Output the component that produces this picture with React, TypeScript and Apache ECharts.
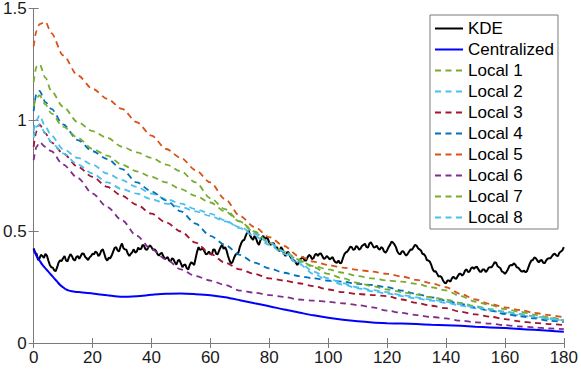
import React, { useEffect, useRef } from "react";
import * as echarts from "echarts";

// ---- data ----
// KDE at x = 0, 1, ..., 180
const KDE_VALUES = [
  0.424, 0.4, 0.38, 0.39, 0.4, 0.37, 0.34, 0.326, 0.34, 0.37, 0.38,
  0.37, 0.385, 0.39, 0.37, 0.39, 0.39, 0.4, 0.38, 0.384, 0.4,
  0.41, 0.39, 0.415, 0.4, 0.37, 0.38, 0.41, 0.43, 0.41, 0.446,
  0.42, 0.4, 0.4, 0.42, 0.41, 0.42, 0.44, 0.42, 0.43, 0.43,
  0.42, 0.4, 0.4, 0.39, 0.38, 0.37, 0.38, 0.36, 0.37, 0.357,
  0.35, 0.335, 0.35, 0.357, 0.38, 0.43, 0.42, 0.41, 0.4, 0.4,
  0.42, 0.4, 0.415, 0.44, 0.43, 0.39, 0.357, 0.38, 0.4, 0.43,
  0.46, 0.48, 0.504, 0.47, 0.48, 0.45, 0.46, 0.48, 0.473, 0.45,
  0.446, 0.43, 0.42, 0.43, 0.4, 0.406, 0.39, 0.37, 0.36, 0.36,
  0.38, 0.37, 0.384, 0.39, 0.38, 0.4, 0.4, 0.39, 0.38, 0.384,
  0.38, 0.37, 0.36, 0.357, 0.38, 0.406, 0.42, 0.43, 0.42, 0.43,
  0.424, 0.44, 0.43, 0.446, 0.44, 0.43, 0.424, 0.43, 0.41, 0.415,
  0.44, 0.45, 0.43, 0.4, 0.41, 0.4, 0.4, 0.42, 0.43, 0.437,
  0.42, 0.4, 0.39, 0.37, 0.35, 0.32, 0.31, 0.3, 0.28, 0.268,
  0.28, 0.29, 0.29, 0.3, 0.31, 0.31, 0.33, 0.32, 0.34, 0.34,
  0.33, 0.32, 0.33, 0.326, 0.34, 0.35, 0.36, 0.34, 0.32, 0.31,
  0.33, 0.35, 0.357, 0.34, 0.33, 0.32, 0.317, 0.34, 0.37, 0.384,
  0.37, 0.37, 0.36, 0.37, 0.38, 0.39, 0.4, 0.39, 0.41, 0.43,
];
// KDE at x = 0.5, 1.5, ..., 179.5
const KDE_MID = [
  0.405, 0.372, 0.395, 0.382, 0.392, 0.35, 0.338, 0.322, 0.362, 0.368,
  0.39, 0.366, 0.398, 0.375, 0.385, 0.378, 0.402, 0.386, 0.372, 0.39,
  0.398, 0.405, 0.398, 0.42, 0.378, 0.382, 0.392, 0.426, 0.415, 0.432,
  0.425, 0.418, 0.39, 0.408, 0.405, 0.428, 0.422, 0.435, 0.418, 0.438,
  0.418, 0.414, 0.392, 0.405, 0.378, 0.385, 0.365, 0.375, 0.352, 0.372,
  0.34, 0.352, 0.33, 0.362, 0.35, 0.41, 0.418, 0.425, 0.398, 0.41,
  0.396, 0.418, 0.398, 0.43, 0.422, 0.415, 0.37, 0.362, 0.395, 0.405,
  0.448, 0.462, 0.495, 0.482, 0.462, 0.47, 0.44, 0.475, 0.462, 0.468,
  0.44, 0.448, 0.43, 0.412, 0.42, 0.39, 0.408, 0.38, 0.37, 0.35,
  0.375, 0.385, 0.37, 0.395, 0.376, 0.395, 0.39, 0.402, 0.378, 0.39,
  0.375, 0.385, 0.362, 0.37, 0.36, 0.398, 0.41, 0.432, 0.418, 0.435,
  0.418, 0.436, 0.445, 0.428, 0.452, 0.428, 0.436, 0.418, 0.425, 0.405,
  0.43, 0.455, 0.442, 0.41, 0.398, 0.412, 0.392, 0.41, 0.418, 0.44,
  0.425, 0.415, 0.398, 0.372, 0.365, 0.33, 0.322, 0.298, 0.295, 0.27,
  0.28, 0.275, 0.298, 0.288, 0.31, 0.302, 0.325, 0.318, 0.335, 0.332,
  0.342, 0.32, 0.33, 0.318, 0.338, 0.34, 0.362, 0.345, 0.335, 0.318,
  0.318, 0.345, 0.348, 0.352, 0.338, 0.322, 0.325, 0.322, 0.358, 0.372,
  0.38, 0.362, 0.372, 0.358, 0.378, 0.38, 0.398, 0.392, 0.405, 0.415,
];

const CENT_X = [0, 1, 2, 3, 4, 5, 6, 7, 8, 9, 10, 11, 12, 14, 16, 20, 25, 30, 35, 40, 45, 50, 55, 60, 65, 70, 75, 80, 85, 90, 95, 100, 105, 110, 115, 120, 125, 130, 135, 140, 145, 150, 155, 160, 165, 170, 175, 180];
const CENT_VALUES = [0.42, 0.39, 0.37, 0.35, 0.335, 0.32, 0.305, 0.29, 0.275, 0.26, 0.25, 0.24, 0.235, 0.23, 0.228, 0.222, 0.214, 0.207, 0.21, 0.216, 0.221, 0.222, 0.219, 0.214, 0.205, 0.192, 0.178, 0.165, 0.15, 0.137, 0.124, 0.113, 0.104, 0.097, 0.092, 0.089, 0.087, 0.085, 0.082, 0.08, 0.077, 0.073, 0.07, 0.067, 0.063, 0.059, 0.055, 0.05];

const LOCAL_X = [0, 1, 2, 4, 6, 10, 15, 20, 25, 30, 35, 40, 45, 50, 55, 60, 65, 70, 75, 80, 85, 90, 95, 100, 105, 110, 115, 120, 125, 130, 135, 140, 145, 150, 155, 160, 165, 170, 175, 180];
const LOCAL1 = [1.17, 1.24, 1.25, 1.19, 1.13, 1.06, 0.99, 0.95, 0.92, 0.88, 0.855, 0.83, 0.8, 0.77, 0.72, 0.65, 0.6, 0.545, 0.495, 0.45, 0.41, 0.37, 0.345, 0.33, 0.315, 0.3, 0.29, 0.28, 0.275, 0.265, 0.25, 0.236, 0.21, 0.185, 0.17, 0.152, 0.14, 0.127, 0.115, 0.103];
const LOCAL2 = [0.95, 1.0, 1.02, 0.97, 0.93, 0.87, 0.83, 0.8, 0.76, 0.73, 0.7, 0.67, 0.645, 0.625, 0.6, 0.58, 0.55, 0.515, 0.48, 0.44, 0.4, 0.355, 0.31, 0.28, 0.262, 0.245, 0.232, 0.222, 0.21, 0.2, 0.19, 0.18, 0.168, 0.155, 0.145, 0.135, 0.125, 0.115, 0.107, 0.1];
const LOCAL3 = [0.88, 0.95, 0.98, 0.94, 0.9, 0.85, 0.79, 0.745, 0.7, 0.66, 0.62, 0.58, 0.54, 0.5, 0.45, 0.4, 0.36, 0.33, 0.31, 0.29, 0.28, 0.268, 0.255, 0.24, 0.228, 0.22, 0.215, 0.21, 0.195, 0.18, 0.167, 0.156, 0.14, 0.128, 0.118, 0.107, 0.097, 0.09, 0.085, 0.08];
const LOCAL4 = [1.04, 1.12, 1.13, 1.08, 1.05, 0.98, 0.91, 0.86, 0.825, 0.78, 0.72, 0.68, 0.64, 0.59, 0.535, 0.48, 0.44, 0.395, 0.36, 0.335, 0.315, 0.3, 0.29, 0.28, 0.275, 0.265, 0.26, 0.25, 0.235, 0.22, 0.205, 0.19, 0.175, 0.16, 0.145, 0.13, 0.12, 0.11, 0.1, 0.094];
const LOCAL5 = [1.33, 1.4, 1.43, 1.44, 1.39, 1.29, 1.2, 1.14, 1.095, 1.05, 0.99, 0.93, 0.87, 0.83, 0.775, 0.72, 0.645, 0.57, 0.52, 0.475, 0.435, 0.39, 0.365, 0.35, 0.338, 0.328, 0.32, 0.31, 0.298, 0.283, 0.268, 0.25, 0.22, 0.195, 0.175, 0.16, 0.148, 0.135, 0.125, 0.115];
const LOCAL6 = [0.82, 0.88, 0.9, 0.88, 0.86, 0.8, 0.74, 0.67, 0.61, 0.55, 0.48, 0.42, 0.375, 0.33, 0.3, 0.28, 0.26, 0.235, 0.225, 0.215, 0.207, 0.195, 0.19, 0.185, 0.178, 0.17, 0.16, 0.145, 0.135, 0.125, 0.117, 0.11, 0.1, 0.093, 0.087, 0.08, 0.074, 0.07, 0.065, 0.062];
const LOCAL7 = [1.06, 1.1, 1.11, 1.07, 1.03, 0.97, 0.92, 0.87, 0.84, 0.8, 0.77, 0.745, 0.72, 0.69, 0.66, 0.63, 0.59, 0.545, 0.5, 0.45, 0.41, 0.375, 0.34, 0.31, 0.29, 0.27, 0.255, 0.24, 0.228, 0.217, 0.205, 0.195, 0.18, 0.165, 0.152, 0.14, 0.13, 0.12, 0.11, 0.1];
const LOCAL8 = [0.92, 0.97, 0.98, 0.94, 0.9, 0.85, 0.8, 0.76, 0.72, 0.69, 0.67, 0.645, 0.625, 0.61, 0.59, 0.57, 0.545, 0.52, 0.49, 0.45, 0.41, 0.365, 0.32, 0.29, 0.268, 0.25, 0.237, 0.228, 0.215, 0.205, 0.195, 0.185, 0.173, 0.16, 0.15, 0.14, 0.13, 0.12, 0.11, 0.102];

const LOCAL_NAMES = ["Local 1", "Local 2", "Local 3", "Local 4", "Local 5", "Local 6", "Local 7", "Local 8"];
const LOCAL_SERIES = [LOCAL1, LOCAL2, LOCAL3, LOCAL4, LOCAL5, LOCAL6, LOCAL7, LOCAL8];
const LOCAL_COLORS = ["#77AC30", "#4DBEEE", "#A2142F", "#0072BD", "#D95319", "#7E2F8E", "#77AC30", "#4DBEEE"];

const FONT = "'Liberation Sans', Arial, Helvetica, sans-serif";
const AXIS_COLOR = "#7a7a7a";

export default function App() {
  const ref = useRef<HTMLDivElement>(null);
  useEffect(() => {
    if (!ref.current) return;
    document.body.style.margin = "0";
    const chart = echarts.init(ref.current, undefined, { renderer: "svg" });
    const pairs = (xs: number[], ys: number[]) => ys.map((y, i) => [xs[i], y]);
    const kdeData: number[][] = [];
    KDE_VALUES.forEach((v, i) => {
      kdeData.push([i, v]);
      if (i < KDE_MID.length) kdeData.push([i + 0.5, KDE_MID[i]]);
    });
    const series: any[] = [
      {
        name: "KDE",
        type: "line",
        data: kdeData,
        symbol: "none",
        lineStyle: { color: "#000000", width: 2 },
        itemStyle: { color: "#000000" },
      },
      {
        name: "Centralized",
        type: "line",
        data: pairs(CENT_X, CENT_VALUES),
        symbol: "none",
        smooth: 0.3,
        lineStyle: { color: "#0000FF", width: 2 },
        itemStyle: { color: "#0000FF" },
      },
      ...LOCAL_NAMES.map((name, k) => ({
        name,
        type: "line",
        data: pairs(LOCAL_X, LOCAL_SERIES[k]),
        symbol: "none",
        smooth: 0.3,
        smoothMonotone: "x",
        lineStyle: { color: LOCAL_COLORS[k], width: 1.8, type: [6, 4.5] },
        itemStyle: { color: LOCAL_COLORS[k] },
      })),
    ];
    const axisCommon = {
      type: "value",
      axisLine: { show: true, lineStyle: { color: AXIS_COLOR, width: 1 } },
      axisTick: { show: true, inside: true, length: 5, lineStyle: { color: AXIS_COLOR } },
      splitLine: { show: false },
    };
    chart.setOption({
      animation: false,
      backgroundColor: "#ffffff",
      textStyle: { fontFamily: FONT },
      grid: { left: 32, right: 15, top: 7, bottom: 26, containLabel: false },
      xAxis: [
        {
          ...axisCommon,
          min: 0,
          max: 180,
          interval: 20,
          position: "bottom",
          axisLabel: { color: "#1a1a1a", fontSize: 17, margin: 6, fontFamily: FONT },
        },
        {
          ...axisCommon,
          min: 0,
          max: 180,
          interval: 20,
          position: "top",
          axisLabel: { show: false },
        },
      ],
      yAxis: [
        {
          ...axisCommon,
          min: 0,
          max: 1.5,
          interval: 0.5,
          position: "left",
          axisLabel: { color: "#1a1a1a", fontSize: 17, margin: 7, fontFamily: FONT },
        },
        {
          ...axisCommon,
          min: 0,
          max: 1.5,
          interval: 0.5,
          position: "right",
          axisLabel: { show: false },
        },
      ],
      legend: {
        orient: "vertical",
        left: 430,
        top: 15,
        padding: [5, 4, 3, 4],
        itemWidth: 28,
        itemHeight: 14,
        itemGap: 4,
        backgroundColor: "#ffffff",
        borderColor: AXIS_COLOR,
        borderWidth: 1,
        itemStyle: { opacity: 0 },
        textStyle: { fontSize: 17, color: "#000000", fontFamily: FONT, lineHeight: 17 },
        data: ["KDE", "Centralized", ...LOCAL_NAMES],
      },
      series,
    });
    return () => chart.dispose();
  }, []);
  return (
    <div
      ref={ref}
      style={{ position: "absolute", left: 0, top: 0, width: 581, height: 369 }}
    />
  );
}
